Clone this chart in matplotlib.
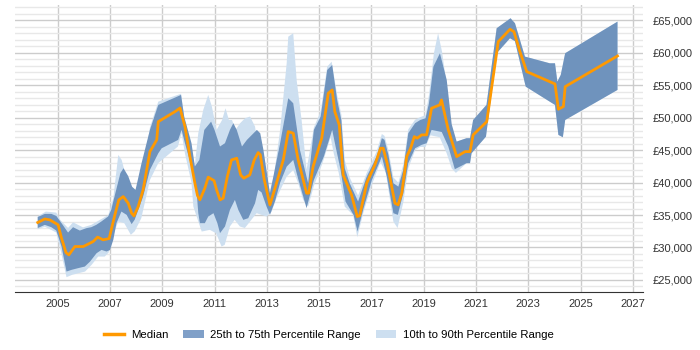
import numpy as np
import matplotlib
matplotlib.use('Agg')
import matplotlib.pyplot as plt
from matplotlib.ticker import FuncFormatter, MultipleLocator
from matplotlib.lines import Line2D
from matplotlib.patches import Patch

plt.rcParams['font.family'] = ['Liberation Sans', 'DejaVu Sans']

# median salary
median_dates = [2004.24, 2004.51, 2004.70, 2005.02, 2005.15, 2005.32, 2005.43, 2005.66, 2005.98,
                2006.24, 2006.36, 2006.53, 2006.74, 2006.97, 2007.19, 2007.34, 2007.51, 2007.70,
                2007.83, 2007.92, 2008.08, 2008.27, 2008.53, 2008.79, 2008.85, 2009.49, 2009.68,
                2009.87, 2010.06, 2010.25, 2010.35, 2010.44, 2010.63, 2010.76, 2010.98, 2011.08,
                2011.21, 2011.33, 2011.49, 2011.65, 2011.85, 2012.00, 2012.12, 2012.35, 2012.52,
                2012.67, 2012.75, 2012.90, 2013.12, 2013.37, 2013.63, 2013.82, 2014.01, 2014.20,
                2014.52, 2014.60, 2014.77, 2015.10, 2015.35, 2015.50, 2015.60, 2015.77, 2015.92,
                2016.24, 2016.46, 2016.55, 2016.82, 2017.13, 2017.35, 2017.45, 2017.60, 2017.90,
                2018.02, 2018.16, 2018.35, 2018.50, 2018.64, 2018.75, 2018.92, 2019.11, 2019.30,
                2019.61, 2019.68, 2019.94, 2020.26, 2020.58, 2020.77, 2020.89, 2021.41, 2021.85,
                2022.30, 2022.45, 2022.68, 2022.94, 2024.02, 2024.15, 2024.34, 2024.41, 2026.41]
median = [33850, 34400, 34260, 33500, 31440, 29220, 28860, 30150, 30150,
          30670, 30920, 31600, 31180, 31380, 35030, 37340, 37850, 36830,
          35290, 34870, 36300, 38880, 44780, 46590, 49400, 50950, 51500,
          48640, 44010, 39910, 38000, 37340, 39140, 40840, 40310, 38880,
          37340, 37600, 40930, 43500, 43760, 41190, 40680, 41190, 43500,
          44630, 44300, 40500, 36570, 39910, 43500, 47870, 47620, 43500,
          38370, 38370, 42470, 46850, 53780, 54290, 50950, 48900, 41190,
          38110, 34770, 34900, 39910, 42730, 45300, 45300, 42990, 36830,
          36570, 38370, 44010, 45300, 47090, 46850, 47360, 47360, 51470,
          51980, 52750, 48130, 44010, 44780, 44780, 47360, 49400, 61730,
          63640, 63270, 60190, 57110, 55210, 51320, 51720, 54800, 59530]

# 25th percentile
p25_dates = [2004.24, 2004.51, 2004.76, 2004.95, 2005.15, 2005.34, 2005.53, 2005.78, 2006.04,
             2006.24, 2006.49, 2006.68, 2006.87, 2007.00, 2007.13, 2007.25, 2007.44, 2007.64,
             2007.83, 2007.95, 2008.27, 2008.53, 2008.85, 2008.98, 2009.61, 2009.74, 2009.87,
             2010.12, 2010.32, 2010.38, 2010.44, 2010.63, 2010.76, 2010.96, 2011.11, 2011.21,
             2011.40, 2011.59, 2011.78, 2011.91, 2012.10, 2012.29, 2012.55, 2012.67, 2012.80,
             2012.99, 2013.12, 2013.31, 2013.51, 2013.76, 2014.01, 2014.21, 2014.52, 2014.80,
             2015.18, 2015.50, 2015.63, 2015.82, 2016.01, 2016.32, 2016.47, 2016.70, 2017.02,
             2017.40, 2017.59, 2017.84, 2018.01, 2018.22, 2018.41, 2018.67, 2018.92, 2019.11,
             2019.30, 2019.69, 2019.94, 2020.19, 2020.64, 2020.77, 2020.83, 2021.38, 2021.79,
             2022.30, 2022.49, 2022.90, 2024.02, 2024.15, 2024.32, 2024.41, 2026.41]
p25 = [33000, 33490, 33130, 32610, 30150, 26290, 26550, 26810, 27060,
       27830, 29120, 29630, 29380, 29600, 31180, 33750, 35540, 35030,
       33600, 34300, 37850, 41960, 44530, 45300, 46590, 48130, 46080,
       42470, 38370, 35290, 33750, 33750, 34770, 35290, 33750, 32210,
       33240, 35800, 37340, 35800, 34260, 34520, 36830, 38880, 38500,
       36310, 35030, 37080, 40000, 42470, 43500, 40420, 36060, 40420,
       44010, 48130, 45570, 42000, 37080, 35000, 32460, 36060, 40420,
       44010, 40930, 35290, 35030, 38370, 43000, 45300, 45820, 46080,
       48130, 47800, 45570, 42070, 43000, 43000, 44530, 47090, 59950,
       62260, 61800, 54800, 51980, 47360, 47000, 49660, 54290]

# 75th percentile
p75_dates = [2004.24, 2004.51, 2004.76, 2004.95, 2005.15, 2005.40, 2005.59, 2005.85, 2006.10,
             2006.29, 2006.48, 2006.67, 2006.93, 2007.05, 2007.24, 2007.40, 2007.52, 2007.70,
             2007.85, 2007.98, 2008.21, 2008.53, 2008.85, 2009.72, 2009.84, 2010.12, 2010.25,
             2010.42, 2010.61, 2010.87, 2011.00, 2011.21, 2011.40, 2011.59, 2011.72, 2011.85,
             2012.05, 2012.24, 2012.62, 2012.75, 2012.87, 2013.12, 2013.51, 2013.82, 2014.01,
             2014.27, 2014.58, 2014.80, 2015.06, 2015.31, 2015.50, 2015.69, 2015.85, 2015.98,
             2016.17, 2016.49, 2016.82, 2017.20, 2017.40, 2017.50, 2017.65, 2017.84, 2018.03,
             2018.22, 2018.41, 2018.67, 2018.87, 2019.07, 2019.20, 2019.37, 2019.62, 2019.88,
             2020.07, 2020.26, 2020.64, 2020.77, 2020.89, 2021.40, 2021.79, 2022.32, 2022.49,
             2022.87, 2023.82, 2024.02, 2024.11, 2024.24, 2024.41, 2026.41]
p75 = [34700, 35180, 35180, 34870, 33750, 32300, 33130, 32610, 32980,
       33130, 33490, 34000, 34770, 35800, 38880, 41450, 42220, 41000,
       39360, 38880, 43000, 48130, 51980, 53520, 50190, 46080, 42500,
       43500, 48130, 49400, 48130, 45570, 46080, 48130, 49160, 48130,
       45570, 46590, 48130, 47600, 45050, 38370, 46080, 53010, 52240,
       45000, 39910, 48130, 50190, 57370, 58140, 52750, 49660, 42220,
       39910, 37080, 40930, 44010, 46850, 46600, 44270, 39910, 39380,
       42000, 47620, 49160, 49660, 49930, 52240, 57880, 59950, 55830,
       49000, 46330, 46850, 46850, 49660, 51980, 63800, 65340, 64570,
       59430, 58400, 58400, 55570, 56600, 59950, 64820]

# 10th percentile
p10_dates = [2004.24, 2004.51, 2004.76, 2004.95, 2005.15, 2005.34, 2005.55, 2006.05, 2006.30,
             2006.55, 2006.80, 2006.95, 2007.13, 2007.32, 2007.55, 2007.80, 2007.95, 2008.20,
             2008.53, 2008.85, 2009.60, 2009.74, 2009.87, 2010.12, 2010.19, 2010.51, 2010.82,
             2011.06, 2011.27, 2011.39, 2011.59, 2011.77, 2011.97, 2012.16, 2012.61, 2012.99,
             2013.18, 2013.37, 2013.76, 2014.01, 2014.20, 2014.39, 2014.58, 2014.80, 2015.13,
             2015.44, 2015.56, 2015.75, 2015.98, 2016.30, 2016.46, 2016.70, 2017.00, 2017.35,
             2017.55, 2017.84, 2018.00, 2018.22, 2018.41, 2018.67, 2018.87, 2019.07, 2019.26,
             2019.61, 2019.88, 2020.07, 2020.23, 2020.64, 2020.77, 2020.83, 2021.38, 2021.79,
             2022.30, 2022.49, 2022.90, 2024.02, 2024.15, 2024.32, 2024.41, 2026.41]
p10 = [32800, 33200, 32700, 32300, 29000, 25420, 25780, 26290, 27320,
       28600, 28600, 29200, 31950, 34000, 33750, 31950, 32500, 34520,
       40400, 43000, 45570, 47620, 44500, 40000, 36310, 32460, 32720,
       32200, 30150, 30410, 33240, 34260, 33240, 33000, 35290, 34770,
       35500, 37600, 40930, 41960, 39910, 37340, 36310, 39500, 43000,
       47000, 44500, 41500, 36300, 35000, 31600, 35500, 39500, 43200,
       41500, 34000, 33000, 37000, 42200, 45000, 45500, 45500, 47300,
       47000, 44500, 42200, 41500, 43000, 43000, 44530, 47090, 59950,
       62260, 61800, 54800, 51980, 47360, 47000, 49660, 54290]

# 90th percentile
p90_dates = [2004.24, 2004.55, 2004.95, 2005.10, 2005.40, 2005.59, 2005.97, 2006.29, 2006.62,
             2006.94, 2007.13, 2007.32, 2007.45, 2007.65, 2007.85, 2007.98, 2008.24, 2008.53,
             2008.85, 2009.72, 2009.84, 2010.04, 2010.23, 2010.38, 2010.57, 2010.76, 2010.90,
             2011.08, 2011.29, 2011.42, 2011.55, 2011.67, 2011.80, 2011.98, 2012.17, 2012.36,
             2012.55, 2012.70, 2012.87, 2013.10, 2013.27, 2013.51, 2013.76, 2013.82, 2014.01,
             2014.14, 2014.33, 2014.52, 2014.80, 2015.06, 2015.31, 2015.48, 2015.69, 2015.85,
             2015.98, 2016.17, 2016.49, 2016.82, 2017.20, 2017.40, 2017.50, 2017.65, 2017.84,
             2018.03, 2018.22, 2018.41, 2018.67, 2018.87, 2019.07, 2019.20, 2019.39, 2019.55,
             2019.70, 2019.88, 2020.00, 2020.16, 2020.26, 2020.64, 2020.77, 2020.89, 2021.40,
             2021.79, 2022.32, 2022.49, 2022.87, 2023.82, 2024.02, 2024.11, 2024.24, 2024.41,
             2026.41]
p90 = [34800, 35540, 35380, 34260, 33000, 33880, 33100, 33490, 34260,
       35000, 37600, 44270, 43500, 40420, 38880, 38880, 40930, 48500,
       52490, 53700, 50190, 45500, 41960, 47620, 51210, 53520, 51720,
       48130, 49660, 51470, 49660, 49660, 48130, 49160, 49930, 50190,
       48640, 44530, 41500, 38500, 41000, 48130, 58400, 62500, 63030,
       55830, 49660, 42000, 48500, 51000, 57880, 58650, 53500, 50500,
       43500, 40800, 38000, 41500, 44800, 47500, 47200, 45000, 40800,
       40000, 42800, 48200, 49700, 50100, 50400, 53500, 59950, 63030,
       60190, 55000, 50000, 46000, 46330, 46850, 46850, 49660, 51980,
       63800, 65340, 64570, 59430, 58400, 58400, 55570, 56600, 59950,
       64820]

dark_blue = '#6f93bd'
light_blue = '#cddff0'
orange = '#ff9900'

fig = plt.figure(figsize=(7, 3.5), dpi=100)
ax = fig.add_axes([0.0214, 0.165, 0.8966, 0.821])

ax.fill(np.r_[p90_dates, p10_dates[::-1]], np.r_[p90, p10[::-1]],
        color=light_blue, lw=0, zorder=2)
ax.fill(np.r_[p75_dates, p25_dates[::-1]], np.r_[p75, p25[::-1]],
        color=dark_blue, lw=0, zorder=3)
ax.plot(median_dates, median, color=orange, lw=2, zorder=4)

ax.set_xlim(2003.37, 2027.37)
ax.set_ylim(23100, 67400)
ax.set_xticks(range(2005, 2028, 2))
ax.yaxis.set_major_locator(MultipleLocator(5000))
ax.yaxis.set_minor_locator(MultipleLocator(1000))
ax.yaxis.set_major_formatter(FuncFormatter(lambda v, p: '£{:,.0f}'.format(v)))
ax.yaxis.tick_right()

ax.grid(axis='x', color='#cccccc', lw=1, zorder=0)
ax.grid(axis='y', which='major', color='#cccccc', lw=1, zorder=0)
ax.grid(axis='y', which='minor', color='#e8e8e8', lw=1, zorder=0)
ax.set_axisbelow(True)

for side in ['top', 'left', 'right']:
    ax.spines[side].set_visible(False)
ax.spines['bottom'].set_color('#333333')
ax.tick_params(axis='both', which='both', length=0, labelsize=8, labelcolor='#333333')
ax.tick_params(axis='y', pad=7)
ax.tick_params(axis='x', pad=5)

handles = [Line2D([], [], color=orange, lw=2.5),
           Patch(facecolor='#80a0c8', edgecolor='none'),
           Patch(facecolor=light_blue, edgecolor='none')]
labels = ['Median', '25th to 75th Percentile Range', '10th to 90th Percentile Range']
ax.legend(handles, labels, loc='upper center', bbox_to_anchor=(0.5, -0.095), ncol=3,
          frameon=False, fontsize=8.2, handlelength=1.8, columnspacing=1.3, handletextpad=0.6)

fig.savefig('out.png', dpi=100)
